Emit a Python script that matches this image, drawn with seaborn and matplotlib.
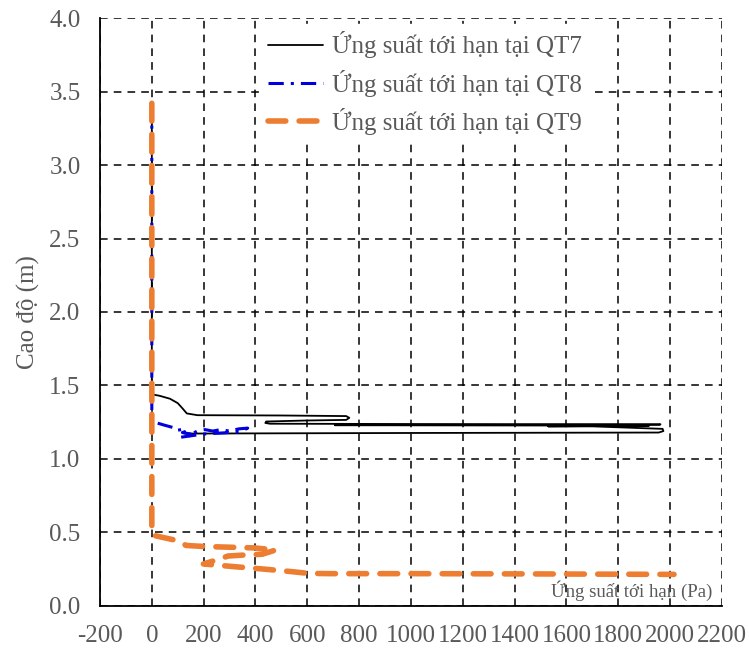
import matplotlib
matplotlib.use("Agg")
import matplotlib.pyplot as plt
import pandas as pd
import seaborn as sns

# Critical shear stress (Pa) versus elevation (m) at three stations
qt7_stress = [0, 0, 30, 70, 100, 118, 135, 176, 500, 750, 762, 750, 600, 441, 438, 456,
              1000, 1963, 1960, 1400, 706, 1000, 1919, 1529, 1700, 1971, 1974, 1956, 1000, 125]
qt7_height = [3.42, 1.44, 1.43, 1.41, 1.38, 1.345, 1.31, 1.298, 1.296, 1.292, 1.28, 1.266,
              1.262, 1.255, 1.245, 1.24, 1.238, 1.236, 1.233, 1.232, 1.23, 1.229, 1.227,
              1.222, 1.222, 1.205, 1.19, 1.18, 1.177, 1.173]

qt8_stress = [0, 0, 20, 45, 90, 95, 115, 135, 118, 150, 140, 175, 205, 235, 265, 300,
              335, 370, 340, 300, 250, 200, 160, 100]
qt8_height = [3.42, 1.26, 1.245, 1.232, 1.21, 1.195, 1.20, 1.19, 1.18, 1.17, 1.155, 1.19,
              1.20, 1.19, 1.20, 1.19, 1.205, 1.21, 1.185, 1.18, 1.175, 1.17, 1.16, 1.145]

qt9_stress = [0, 0, 59, 103, 132, 199, 397, 478, 426, 368, 294, 257, 199, 309, 426, 544,
              603, 691, 1000, 1500, 2015]
qt9_height = [3.42, 0.483, 0.46, 0.443, 0.412, 0.405, 0.395, 0.381, 0.352, 0.348, 0.34,
              0.317, 0.286, 0.269, 0.252, 0.233, 0.222, 0.22, 0.22, 0.218, 0.215]

labels = ["Ứng suất tới hạn tại QT7", "Ứng suất tới hạn tại QT8", "Ứng suất tới hạn tại QT9"]
x_ticks = list(range(-200, 2201, 200))
y_ticks = [0.0, 0.5, 1.0, 1.5, 2.0, 2.5, 3.0, 3.5, 4.0]

sns.set_theme(style="white")
plt.rcParams["font.family"] = ["Liberation Serif", "DejaVu Serif"]
plt.rcParams["axes.unicode_minus"] = False

grey = "#595959"
fig = plt.figure(figsize=(7.49, 6.5), dpi=100)
ax = fig.add_axes([0.1335, 0.0677, 0.8304, 0.9046])

df7 = pd.DataFrame({"x": qt7_stress, "y": qt7_height})
df8 = pd.DataFrame({"x": qt8_stress, "y": qt8_height})
df9 = pd.DataFrame({"x": qt9_stress, "y": qt9_height})

sns.lineplot(data=df7, x="x", y="y", sort=False, estimator=None, ax=ax,
             color="black", linewidth=1.3, label=labels[0], zorder=3)
sns.lineplot(data=df8, x="x", y="y", sort=False, estimator=None, ax=ax,
             color="#0000DD", linewidth=2.2, linestyle=(0, (5, 2.3, 1, 2.3)),
             label=labels[1], zorder=4)
sns.lineplot(data=df9, x="x", y="y", sort=False, estimator=None, ax=ax,
             color="#ED7D31", linewidth=4, linestyle=(0, (3.2, 2.4)),
             dash_capstyle="round", label=labels[2], zorder=5)

ax.set_xlim(-200, 2200)
ax.set_ylim(0, 4)
ax.set_xticks(x_ticks)
ax.set_xticklabels([str(v) for v in x_ticks])
ax.set_yticks(y_ticks)
ax.set_yticklabels([f"{v:.1f}" for v in y_ticks])

ax.grid(True, color="black", linestyle=(0, (5, 4)), linewidth=1.1)
ax.set_axisbelow(True)
for side in ("top", "right"):
    ax.spines[side].set_visible(False)
for side in ("left", "bottom"):
    ax.spines[side].set_color("black")
    ax.spines[side].set_linewidth(1.3)

ax.tick_params(axis="both", length=0, labelsize=18, labelcolor=grey)
ax.tick_params(axis="x", pad=14)
ax.tick_params(axis="y", pad=14)

ax.set_xlabel("")
ax.set_ylabel("Cao độ (m)", fontsize=18, color=grey, labelpad=7)
ax.text(0.984, 0.026, "Ứng suất tới hạn (Pa)", transform=ax.transAxes,
        ha="right", va="center", fontsize=13.5, color=grey)

leg = ax.legend(loc="upper left", bbox_to_anchor=(260 / 749, 1 - 24 / 650),
                bbox_transform=fig.transFigure, frameon=True, fontsize=18,
                handlelength=2.2, handletextpad=0.4, labelspacing=0.45,
                borderpad=0.3, borderaxespad=0, fancybox=False)
leg.get_frame().set_facecolor("white")
leg.get_frame().set_edgecolor("white")
leg.get_frame().set_alpha(1)
leg.set_zorder(10)
for t in leg.get_texts():
    t.set_color(grey)

fig.savefig("out.png", dpi=100)
